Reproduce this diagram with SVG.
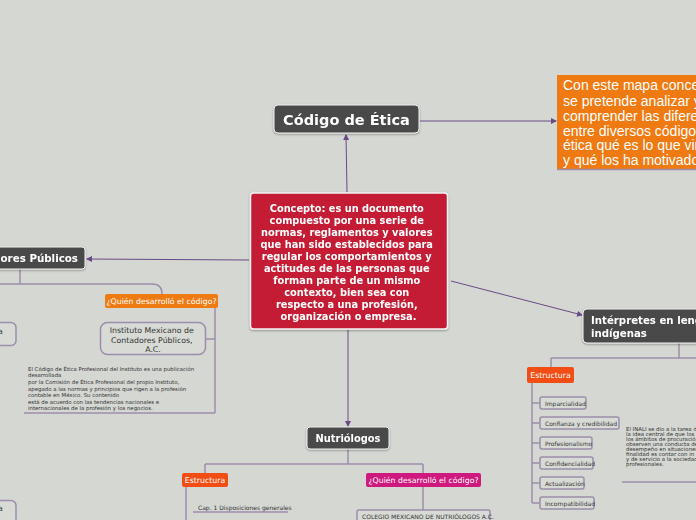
<svg xmlns="http://www.w3.org/2000/svg" width="696" height="520" viewBox="0 0 696 520">
<defs>
<style>
.bg{fill:#d5d7d3}
.dark{fill:#4a4a48;stroke:#f2f2f2;stroke-width:1}
.t{font-family:"DejaVu Sans","Liberation Sans",sans-serif}
.wb{fill:#fff;font-weight:bold}
.conn{stroke:#6a4a86;stroke-width:1;fill:none}
.br{stroke:#9c8eab;stroke-width:1.5;fill:none}
.leaf{fill:#d8dad6;stroke:#9c8eab;stroke-width:1.5}
.small{fill:#333;font-size:5.4px}
.item{fill:#333;font-size:6px}
</style>
<marker id="ar" viewBox="0 0 6 6" refX="5" refY="3" markerWidth="6" markerHeight="6" orient="auto-start-reverse">
<path d="M0,0 L6,3 L0,6 z" fill="#6a4a86"/>
</marker>
<filter id="sh" x="-10%" y="-10%" width="120%" height="130%">
<feDropShadow dx="0" dy="1" stdDeviation="0.8" flood-color="#000" flood-opacity="0.35"/>
</filter>
</defs>
<rect class="bg" x="0" y="0" width="696" height="520"/>

<g id="connectors">
<line class="conn" x1="420" y1="121" x2="556" y2="121" marker-end="url(#ar)"/>
<line class="conn" x1="347" y1="192" x2="346" y2="135" marker-end="url(#ar)"/>
<line class="conn" x1="249" y1="260" x2="87" y2="259" marker-end="url(#ar)"/>
<line class="conn" x1="451" y1="281" x2="582" y2="315" marker-end="url(#ar)"/>
<line class="conn" x1="348" y1="330" x2="348" y2="426" marker-end="url(#ar)"/>
<path class="br" d="M20,269 V284"/>
<path class="br" d="M0,284 H152 Q162,284 162,294"/>
<path class="br" d="M215,308 V413"/>
<path class="br" d="M206,339 H215"/>
<path class="br" d="M24,413 H215"/>
<path class="br" d="M679,343 V358"/>
<path class="br" d="M551,358 H696"/>
<path class="br" d="M551,358 V367"/>
<path class="br" d="M532,383 V503"/>
<path class="br" d="M532,403 H540 M532,423 H540 M532,443 H540 M532,463 H540 M532,483 H540 M532,503 H540"/>
<path class="br" d="M622,482 H696"/>
<path class="br" d="M348,449 V464"/>
<path class="br" d="M205,464 H423"/>
<path class="br" d="M205,464 V473 M423,464 V473"/>
<path class="br" d="M186,487 V520"/>
<path class="br" d="M193,512 H288"/>
<path class="br" d="M423,487 V510"/>
</g>

<g id="codigo" filter="url(#sh)">
<rect class="dark" x="274" y="105" width="145" height="28" rx="4"/>
<text class="t wb" x="346.5" y="124.5" font-size="14.5" text-anchor="middle">Código de Ética</text>
</g>

<g id="proposito">
<rect x="557" y="75" width="145" height="94" fill="#ef7a12"/>
<line x1="557" y1="169.5" x2="696" y2="169.5" stroke="#9c8eab" stroke-width="1.5"/>
<text font-family="'Liberation Sans',Arial,sans-serif" fill="#fff" font-size="14">
<tspan x="563" y="90">Con este mapa conceptual</tspan>
<tspan x="563" y="105.5">se pretende analizar y</tspan>
<tspan x="563" y="120.5">comprender las diferencias</tspan>
<tspan x="563" y="135.5">entre diversos códigos de</tspan>
<tspan x="563" y="150">ética qué es lo que vinculan</tspan>
<tspan x="563" y="165">y qué los ha motivado.</tspan>
</text>
</g>

<g id="concepto" filter="url(#sh)">
<rect x="250.5" y="193" width="197" height="136" rx="3" fill="#c41e34" stroke="#f4f4f4" stroke-width="1.5"/>
<text class="t wb" font-size="9.8" text-anchor="middle">
<tspan x="348.5" y="212">Concepto: es un documento</tspan>
<tspan x="348.5" y="224">compuesto por una serie de</tspan>
<tspan x="348.5" y="236">normas, reglamentos y valores</tspan>
<tspan x="348.5" y="248">que han sido establecidos para</tspan>
<tspan x="348.5" y="260">regular los comportamientos y</tspan>
<tspan x="348.5" y="272">actitudes de las personas que</tspan>
<tspan x="348.5" y="284">forman parte de un mismo</tspan>
<tspan x="348.5" y="296">contexto, bien sea con</tspan>
<tspan x="348.5" y="308">respecto a una profesión,</tspan>
<tspan x="348.5" y="320">organización o empresa.</tspan>
</text>
</g>

<g id="servidores" filter="url(#sh)">
<rect class="dark" x="-80" y="247" width="165" height="22" rx="3"/>
<text class="t wb" x="78" y="262" font-size="10.3" text-anchor="end">Servidores Públicos</text>
</g>

<g id="servidores-quien">
<rect x="105" y="294" width="113" height="14" rx="2" fill="#ef7a12"/>
<text class="t" x="161.5" y="304" font-size="7.8" fill="#fff" text-anchor="middle">¿Quién desarrolló el código?</text>
</g>

<g id="servidores-a">
<rect class="leaf" x="-60" y="322.5" width="76" height="23" rx="5"/>
<text class="t" x="-2" y="334" font-size="7.8" fill="#333">a</text>
</g>

<g id="instituto">
<rect class="leaf" x="100.5" y="322.5" width="105" height="32" rx="7"/>
<text class="t" font-size="7.8" fill="#333" text-anchor="middle">
<tspan x="153" y="333">Instituto Mexicano de</tspan>
<tspan x="153" y="342.5">Contadores Públicos,</tspan>
<tspan x="153" y="352">A.C.</tspan>
</text>
</g>

<g id="instituto-texto">
<text class="t small">
<tspan x="28" y="371">El Código de Ética Profesional del Instituto es una publicación</tspan>
<tspan x="28" y="377">desarrollada</tspan>
<tspan x="28" y="383.5">por la Comisión de Ética Profesional del propio Instituto,</tspan>
<tspan x="28" y="390.5">apegado a las normas y principios que rigen a la profesión</tspan>
<tspan x="28" y="397">contable en México. Su contenido</tspan>
<tspan x="28" y="403.5">está de acuerdo con las tendencias nacionales e</tspan>
<tspan x="28" y="410">internacionales de la profesión y los negocios.</tspan>
</text>
</g>

<g id="interpretes" filter="url(#sh)">
<rect class="dark" x="583" y="309" width="130" height="34" rx="4"/>
<text class="t wb" font-size="10.2">
<tspan x="591" y="324">Intérpretes en lenguas</tspan>
<tspan x="591" y="337">indígenas</tspan>
</text>
</g>

<g id="interpretes-estructura">
<rect x="527" y="367" width="47" height="16" rx="2" fill="#f24d14"/>
<text class="t" x="550.5" y="378" font-size="7.8" fill="#fff" text-anchor="middle">Estructura</text>
</g>

<g id="imparcialidad"><rect class="leaf" x="540" y="397" width="46" height="12" rx="2"/><text class="t item" x="545" y="405.5">Imparcialidad</text></g>
<g id="confianza"><rect class="leaf" x="540" y="417" width="79" height="12" rx="2"/><text class="t item" x="545" y="425.5">Confianza y credibilidad</text></g>
<g id="profesionalismo"><rect class="leaf" x="540" y="437" width="52" height="12" rx="2"/><text class="t item" x="545" y="445.5">Profesionalismo</text></g>
<g id="confidencialidad"><rect class="leaf" x="540" y="457" width="53" height="12" rx="2"/><text class="t item" x="545" y="465.5">Confidencialidad</text></g>
<g id="actualizacion"><rect class="leaf" x="540" y="477" width="44" height="12" rx="2"/><text class="t item" x="545" y="485.5">Actualización</text></g>
<g id="incompatibilidad"><rect class="leaf" x="540" y="497" width="54" height="12" rx="2"/><text class="t item" x="545" y="505.5">Incompatibilidad</text></g>

<g id="inali-texto">
<text class="t small" font-size="5.2">
<tspan x="626" y="431">El INALI se dio a la tarea de</tspan>
<tspan x="626" y="436">la idea central de que los</tspan>
<tspan x="626" y="441">los ámbitos de procuración</tspan>
<tspan x="626" y="446">observen una conducta de</tspan>
<tspan x="626" y="451">desempeño en situaciones</tspan>
<tspan x="626" y="456">finalidad es contar con in</tspan>
<tspan x="626" y="461">y de servicio a la sociedad</tspan>
<tspan x="626" y="466">profesionales.</tspan>
</text>
</g>

<g id="nutriologos" filter="url(#sh)">
<rect class="dark" x="307" y="427" width="82" height="22" rx="3"/>
<text class="t wb" x="348" y="441.5" font-size="9.9" text-anchor="middle">Nutriólogos</text>
</g>

<g id="nutri-estructura">
<rect x="182" y="473" width="46" height="14" rx="2" fill="#f24d14"/>
<text class="t" x="205" y="483" font-size="7.8" fill="#fff" text-anchor="middle">Estructura</text>
</g>

<g id="nutri-quien">
<rect x="366" y="473" width="115" height="14" rx="2" fill="#d0197e"/>
<text class="t" x="423.5" y="483" font-size="7.8" fill="#fff" text-anchor="middle">¿Quién desarrolló el código?</text>
</g>

<g id="cap1">
<text class="t item" x="198" y="509.5" font-size="5.6">Cap. 1 Disposiciones generales</text>
</g>

<g id="colegio">
<rect class="leaf" x="357" y="510" width="133" height="20" rx="2"/>
<text class="t item" x="362" y="518.5" font-size="5.6">COLEGIO MEXICANO DE NUTRIÓLOGOS A.C.</text>
</g>

<g id="left-bottom">
<rect class="leaf" x="-60" y="500.5" width="76" height="30" rx="5"/>
<text class="t" x="-2" y="511" font-size="7.8" fill="#333">a</text>
</g>
</svg>
